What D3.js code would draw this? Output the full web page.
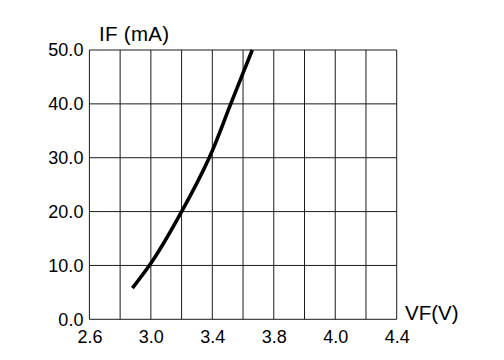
<!DOCTYPE html>
<html><head><meta charset="utf-8">
<script src="https://cdn.jsdelivr.net/npm/d3@7"></script>
<style>body{margin:0;background:#fff}svg{display:block}text{font-family:"Liberation Sans",Arial,sans-serif;fill:#000}</style>
</head><body>
<svg id="c" width="504" height="360"></svg>
<script>
// Data (forward voltage vs forward current)
const vfValues = [2.88, 2.99, 3.20, 3.38, 3.52, 3.66];
const ifValues = [5.8, 10, 20, 30, 40, 50];
// Axis ticks (grid has 10 vertical divisions; labels as printed on the original)
const xGridValues = [2.6, 2.8, 3.0, 3.2, 3.4, 3.6, 3.8, 4.0, 4.2, 4.4, 4.6];
const xTickValues = [2.6, 3.0, 3.4, 3.8, 4.2, 4.6];
const xTickLabels = ["2.6", "3.0", "3.4", "3.8", "4.0", "4.4"];
const yTickValues = [0, 10, 20, 30, 40, 50];
const yTickLabels = ["0.0", "10.0", "20.0", "30.0", "40.0", "50.0"];
const xTitle = "VF(V)";
const yTitle = "IF (mA)";

const svg = d3.select("#c");
const L = 89.4, R = 396.7, T = 50, B = 319.3;
const x = d3.scaleLinear().domain([2.6, 4.6]).range([L, R]);
const y = d3.scaleLinear().domain([0, 50]).range([B, T]);

const g = svg.append("g");
g.selectAll("line.v").data(xGridValues).join("line")
  .attr("x1", d => x(d)).attr("x2", d => x(d)).attr("y1", T).attr("y2", B)
  .attr("stroke", "#1a1a1a").attr("stroke-width", 1);
g.selectAll("line.h").data(yTickValues).join("line")
  .attr("x1", L).attr("x2", R).attr("y1", d => y(d)).attr("y2", d => y(d))
  .attr("stroke", "#1a1a1a").attr("stroke-width", 1);

const font = '"Liberation Sans",Arial,sans-serif';
const yAxis = d3.axisLeft(y).tickValues(yTickValues)
  .tickFormat((d, i) => yTickLabels[i]).tickSize(0).tickPadding(6);
const ya = svg.append("g").attr("transform", `translate(${L},0)`).call(yAxis);
ya.select(".domain").remove();
ya.selectAll("text").attr("font-size", 18).attr("font-family", font).attr("fill", "#000");

const xAxis = d3.axisBottom(x).tickValues(xTickValues)
  .tickFormat((d, i) => xTickLabels[i]).tickSize(0).tickPadding(11);
const xa = svg.append("g").attr("transform", `translate(0,${B})`).call(xAxis);
xa.select(".domain").remove();
xa.selectAll("text").attr("font-size", 18).attr("font-family", font).attr("fill", "#000");

const pts = vfValues.map((v, i) => [v, ifValues[i]]);
const line = d3.line().x(d => x(d[0])).y(d => y(d[1])).curve(d3.curveMonotoneY);
svg.append("path").attr("d", line(pts)).attr("fill", "none")
  .attr("stroke", "#000").attr("stroke-width", 3.6);

svg.append("text").attr("x", 99).attr("y", 41).attr("font-size", 20.5).attr("letter-spacing", 0.3).text(yTitle);
svg.append("text").attr("x", 405).attr("y", 319.5).attr("font-size", 20.5).text(xTitle);
</script>
</body></html>
